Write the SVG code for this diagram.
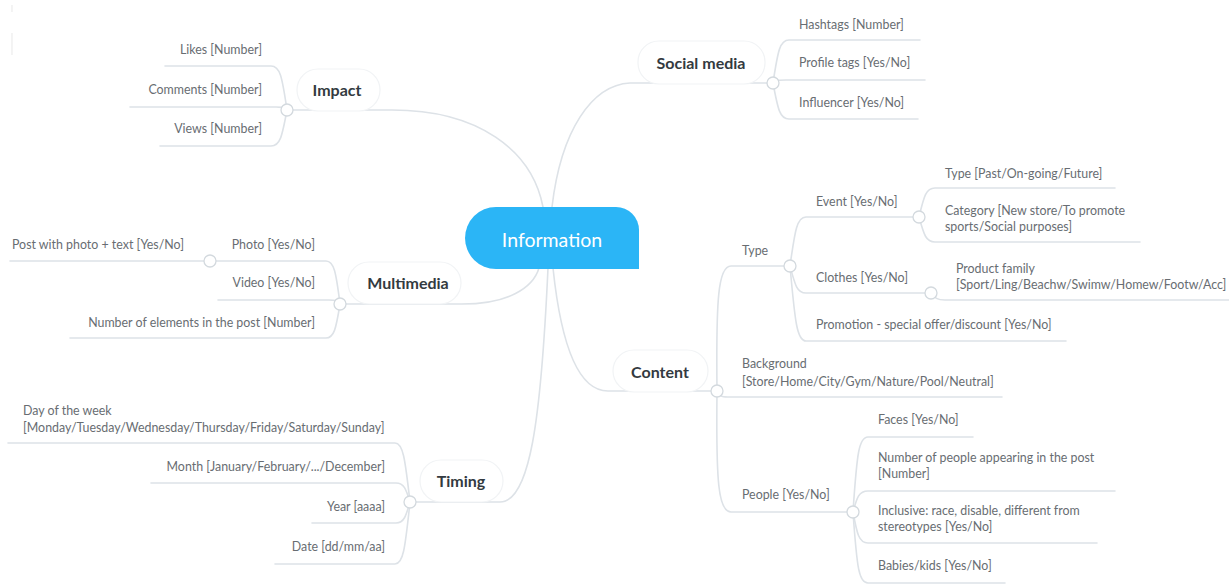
<svg xmlns="http://www.w3.org/2000/svg" width="1229" height="585" viewBox="0 0 1229 585">
  <style>
    .link { fill: none; stroke: #dde2e7; stroke-width: 1.6; stroke-linecap: round; }
    .knot { fill: #ffffff; stroke: #d3d9de; stroke-width: 1.3; }
    .pill { fill: #ffffff; stroke: #f1f3f5; stroke-width: 1.2; }
    .topic { font-family: Lato, "Noto Sans", sans-serif; font-weight: 700; font-size: 16px; fill: #333a40; text-anchor: middle; }
    .leaf { font-family: Lato, "Noto Sans", sans-serif; font-size: 12.4px; fill: #686d72; }
    .end { text-anchor: end; }
  </style>
  <rect width="1229" height="585" fill="#ffffff"/>
  <!-- stray marks near the top-left edge -->
  <g stroke="#ececec" stroke-width="1.2">
    <line x1="12" y1="5" x2="12" y2="12"/>
    <line x1="12" y1="33" x2="12" y2="55"/>
  </g>

  <!-- connectors -->
  <g id="connectors">
    <!-- main branches -->
    <path class="link" d="M287 110 H392 C478 110 532 150 543 207"/>
    <path class="link" d="M773 83 H630 C592 85 561 130 552 207"/>
    <path class="link" d="M340 304 H462 C508 304 533 288 539 268"/>
    <path class="link" d="M410 502 H500 C530 502 541 420 548 268"/>
    <path class="link" d="M717 391 H608 C575 391 560 335 553 268"/>

    <!-- Impact -->
    <path class="link" d="M287 110 C282 76 280 66 271 66 H165"/>
    <path class="link" d="M287 110 C283 107 281 107 276 107 H130"/>
    <path class="link" d="M287 110 C282 137 280 146 271 146 H160"/>

    <!-- Social media -->
    <path class="link" d="M773 83 C778 50 780 40 789 40 H920"/>
    <path class="link" d="M773 83 C777 80 779 80 786 80 H925"/>
    <path class="link" d="M773 83 C778 110 780 119 789 119 H918"/>

    <!-- Multimedia -->
    <path class="link" d="M340 304 C336 272 334 261 326 261 H10"/>
    <path class="link" d="M340 304 C337 300 335 300 329 300 H218"/>
    <path class="link" d="M340 304 C336 329 334 338 326 338 H70"/>

    <!-- Timing -->
    <path class="link" d="M410 502 C405 458 403 443 395 443 H8"/>
    <path class="link" d="M410 502 C406 489 404 483 396 483 H151"/>
    <path class="link" d="M410 502 C406 516 404 523 396 523 H312"/>
    <path class="link" d="M410 502 C405 550 403 564 395 564 H275"/>

    <!-- Content -->
    <path class="link" d="M717 391 C716 300 718 266 731 266 H790"/>
    <path class="link" d="M717 391 C719 396 721 397 728 397 H1002"/>
    <path class="link" d="M717 391 C716 480 718 512 731 512 H853"/>

    <!-- Type -->
    <path class="link" d="M790 266 C795 230 797 217 806 217 H919"/>
    <path class="link" d="M790 266 C795 285 797 293 806 293 H931"/>
    <path class="link" d="M790 266 C795 322 797 341 806 341 H1066"/>

    <!-- Event -->
    <path class="link" d="M919 217 C924 196 926 188 935 188 H1115"/>
    <path class="link" d="M919 217 C924 235 926 242 935 242 H1140"/>

    <!-- Clothes -->
    <path class="link" d="M931 293 C935 298 937 300 945 300 H1229"/>

    <!-- People -->
    <path class="link" d="M853 512 C857 452 859 437 868 437 H973"/>
    <path class="link" d="M853 512 C857 497 859 491 868 491 H1115"/>
    <path class="link" d="M853 512 C857 534 859 543 868 543 H1097"/>
    <path class="link" d="M853 512 C857 569 859 583 868 583 H1005"/>
  </g>

  <!-- central topic -->
  <g id="information">
    <path d="M496 207 H616 A23 23 0 0 1 639 230 V269 H496 A31 31 0 0 1 496 207 Z" fill="#2bb5f6"/>
    <text x="552" y="247" font-family="Lato, 'Noto Sans', sans-serif" font-size="19.5" fill="#ffffff" text-anchor="middle">Information</text>
  </g>

  <!-- Impact -->
  <g id="impact">
    <rect class="pill" x="297" y="69" width="83" height="42" rx="21"/>
    <text class="topic" x="337" y="96">Impact</text>
    <circle class="knot" cx="287" cy="110" r="6"/>
    <text class="leaf end" x="262" y="54">Likes [Number]</text>
    <text class="leaf end" x="262" y="94">Comments [Number]</text>
    <text class="leaf end" x="262" y="133">Views [Number]</text>
  </g>

  <!-- Social media -->
  <g id="social-media">
    <rect class="pill" x="638" y="41" width="127" height="43" rx="21"/>
    <text class="topic" x="701" y="69">Social media</text>
    <circle class="knot" cx="773" cy="83" r="6"/>
    <text class="leaf" x="799" y="29">Hashtags [Number]</text>
    <text class="leaf" x="799" y="67">Profile tags [Yes/No]</text>
    <text class="leaf" x="799" y="107">Influencer [Yes/No]</text>
  </g>

  <!-- Multimedia -->
  <g id="multimedia">
    <rect class="pill" x="348" y="262" width="113" height="42" rx="21"/>
    <text class="topic" x="408" y="289">Multimedia</text>
    <circle class="knot" cx="340" cy="304" r="6"/>
    <circle class="knot" cx="210" cy="261" r="6"/>
    <text class="leaf end" x="315" y="249">Photo [Yes/No]</text>
    <text class="leaf" x="12" y="249">Post with photo + text [Yes/No]</text>
    <text class="leaf end" x="315" y="287">Video [Yes/No]</text>
    <text class="leaf end" x="315" y="327">Number of elements in the post [Number]</text>
  </g>

  <!-- Timing -->
  <g id="timing">
    <rect class="pill" x="420" y="460" width="83" height="42" rx="21"/>
    <text class="topic" x="461" y="487">Timing</text>
    <circle class="knot" cx="410" cy="502" r="6"/>
    <text class="leaf" x="23" y="415">Day of the week</text>
    <text class="leaf" x="23" y="432">[Monday/Tuesday/Wednesday/Thursday/Friday/Saturday/Sunday]</text>
    <text class="leaf end" x="385" y="471">Month [January/February/.../December]</text>
    <text class="leaf end" x="385" y="511">Year [aaaa]</text>
    <text class="leaf end" x="385" y="551">Date [dd/mm/aa]</text>
  </g>

  <!-- Content -->
  <g id="content">
    <rect class="pill" x="613" y="350" width="95" height="42" rx="21"/>
    <text class="topic" x="660" y="378">Content</text>
    <circle class="knot" cx="717" cy="391" r="6"/>
    <text class="leaf" x="742" y="255">Type</text>
    <circle class="knot" cx="790" cy="266" r="6"/>
    <text class="leaf" x="742" y="368">Background</text>
    <text class="leaf" x="742" y="386">[Store/Home/City/Gym/Nature/Pool/Neutral]</text>
    <text class="leaf" x="742" y="499">People [Yes/No]</text>
    <circle class="knot" cx="853" cy="512" r="6"/>
  </g>

  <g id="type-branch">
    <text class="leaf" x="816" y="206">Event [Yes/No]</text>
    <circle class="knot" cx="919" cy="217" r="6"/>
    <text class="leaf" x="945" y="178">Type [Past/On-going/Future]</text>
    <text class="leaf" x="945" y="215">Category [New store/To promote</text>
    <text class="leaf" x="945" y="231">sports/Social purposes]</text>
    <text class="leaf" x="816" y="282">Clothes [Yes/No]</text>
    <circle class="knot" cx="931" cy="293" r="6"/>
    <text class="leaf" x="956" y="273">Product family</text>
    <text class="leaf" x="956" y="289">[Sport/Ling/Beachw/Swimw/Homew/Footw/Acc]</text>
    <text class="leaf" x="816" y="329">Promotion - special offer/discount [Yes/No]</text>
  </g>

  <g id="people-branch">
    <text class="leaf" x="878" y="424">Faces [Yes/No]</text>
    <text class="leaf" x="878" y="462">Number of people appearing in the post</text>
    <text class="leaf" x="878" y="478">[Number]</text>
    <text class="leaf" x="878" y="515">Inclusive: race, disable, different from</text>
    <text class="leaf" x="878" y="531">stereotypes [Yes/No]</text>
    <text class="leaf" x="878" y="570">Babies/kids [Yes/No]</text>
  </g>
</svg>
